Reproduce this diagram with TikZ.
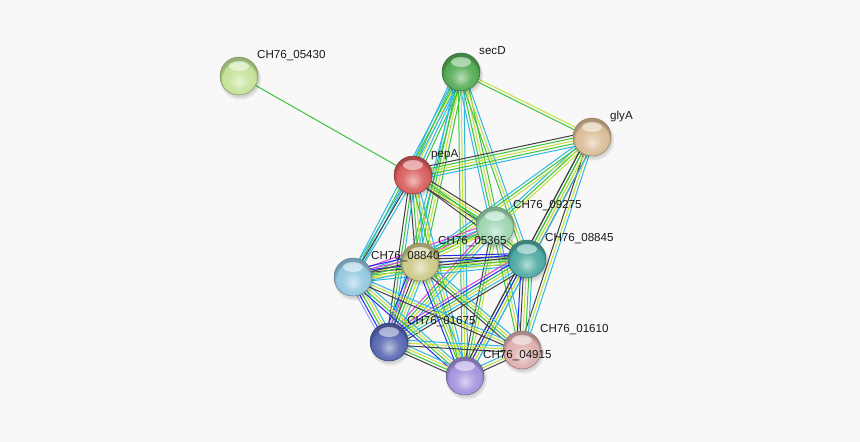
\documentclass[tikz,border=0pt]{standalone}
\usepackage{fontspec}
\setmainfont{Liberation Sans}
\usetikzlibrary{calc}
\pgfdeclarelayer{bg}\pgfdeclarelayer{edges}\pgfdeclarelayer{shadows}
\pgfsetlayers{bg,edges,shadows,main}
\definecolor{bgc}{RGB}{248,248,248}
\definecolor{tm}{RGB}{199,223,60}
\definecolor{db}{RGB}{48,184,224}
\definecolor{nb}{RGB}{60,196,60}
\definecolor{co}{RGB}{64,64,64}
\definecolor{ex}{RGB}{224,64,224}
\definecolor{oc}{RGB}{40,40,240}
\definecolor{hm}{RGB}{160,160,255}
\definecolor{c05430}{RGB}{196,226,150}
\definecolor{csecD}{RGB}{84,170,84}
\definecolor{cglyA}{RGB}{218,188,150}
\definecolor{cpepA}{RGB}{216,92,92}
\definecolor{c09275}{RGB}{156,214,176}
\definecolor{c08845}{RGB}{76,170,160}
\definecolor{c05365}{RGB}{204,200,136}
\definecolor{c08840}{RGB}{146,200,224}
\definecolor{c01675}{RGB}{86,102,176}
\definecolor{c04915}{RGB}{164,146,222}
\definecolor{c01610}{RGB}{222,174,174}
\makeatletter
\pgfdeclareradialshading[tikz@ball]{stringball}{\pgfqpoint{0bp}{-8bp}}{%
 color(0bp)=(tikz@ball!40!white); color(13bp)=(tikz@ball!88!white);
 color(22bp)=(tikz@ball); color(25bp)=(tikz@ball!78!black); color(50bp)=(tikz@ball!78!black)}
\makeatother
\tikzset{
 prot/.style={circle, minimum size=38pt, inner sep=0pt, ball color=#1, shading=stringball, draw=#1!65!black, line width=0.5pt},
 lbl/.style={anchor=base west, inner sep=0pt, text=black!90, font=\fontsize{11.6}{13}\selectfont},
 ln/.style={line width=1pt}
}
\newcommand{\stredge}[3]{%
  \gdef\strn{0}\foreach \c in {#3}{\xdef\strn{\the\numexpr\strn+1\relax}}%
  \foreach \c [count=\i] in {#3}{%
    \pgfmathsetmacro\off{(\i-(\strn+1)/2)*2.8}%
    \draw[ln,\c] ($(#1)!\off pt!90:(#2)$) -- ($(#2)!\off pt!-90:(#1)$);}}
\newcommand{\hilite}[1]{\fill[white,opacity=0.5] ($(#1)+(0,-10)$) ellipse (10pt and 5pt);}
\newcommand{\nshadow}[1]{\fill[black,opacity=0.08] ($(#1)+(1.5,3)$) circle (20.5pt);
  \fill[black,opacity=0.08] ($(#1)+(1,2)$) circle (19.5pt);}
\begin{document}
\begin{tikzpicture}[x=1pt,y=-1pt]
\begin{pgfonlayer}{bg}
\fill[bgc] (0,0) rectangle (860,442);
\end{pgfonlayer}
\useasboundingbox (0,0) rectangle (860,442);
% nodes
\node[prot=c05430] (n05430) at (239,76) {};
\node[prot=csecD]  (secD)   at (461,72) {};
\node[prot=cglyA]  (glyA)   at (592,137) {};
\node[prot=cpepA]  (pepA)   at (413,175) {};
\node[prot=c09275] (n09275) at (495,226) {};
\node[prot=c08845] (n08845) at (527,259) {};
\node[prot=c05365] (n05365) at (420,262) {};
\node[prot=c08840] (n08840) at (353,277) {};
\node[prot=c01675] (n01675) at (389,342) {};
\node[prot=c04915] (n04915) at (465,376) {};
\node[prot=c01610] (n01610) at (522,350) {};
\foreach \n in {n05430,secD,glyA,pepA,n09275,n08845,n05365,n08840,n01675,n04915,n01610}{\hilite{\n}}
\begin{pgfonlayer}{shadows}
\foreach \n in {n05430,secD,glyA,pepA,n09275,n08845,n05365,n08840,n01675,n04915,n01610}{\nshadow{\n}}
\end{pgfonlayer}
% labels
\node[lbl] (l05430) at ($(n05430)+(18,-17.5)$) {CH76\_05430};
\node[lbl] (lsecD)  at ($(secD)+(18,-17.5)$) {secD};
\node[lbl] (lglyA)  at ($(glyA)+(18,-17.5)$) {glyA};
\node[lbl] (lpepA)  at ($(pepA)+(18,-17.5)$) {pepA};
\node[lbl] (l09275) at ($(n09275)+(18,-17.5)$) {CH76\_09275};
\node[lbl] (l08845) at ($(n08845)+(18,-17.5)$) {CH76\_08845};
\node[lbl] (l05365) at ($(n05365)+(18,-17.5)$) {CH76\_05365};
\node[lbl] (l08840) at ($(n08840)+(18,-17.5)$) {CH76\_08840};
\node[lbl] (l01675) at ($(n01675)+(18,-17.5)$) {CH76\_01675};
\node[lbl] (l04915) at ($(n04915)+(18,-17.5)$) {CH76\_04915};
\node[lbl] (l01610) at ($(n01610)+(18,-17.5)$) {CH76\_01610};
% edges
\begin{pgfonlayer}{edges}
\stredge{n05430}{pepA}{nb}
\stredge{secD}{glyA}{nb,tm}
\stredge{secD}{pepA}{db,nb,tm,db,nb}
\stredge{secD}{n08840}{db,nb,db}
\stredge{secD}{n05365}{db,nb,tm,nb}
\stredge{secD}{n09275}{db,nb,tm,nb}
\stredge{secD}{n08845}{nb,tm,db}
\stredge{secD}{n01675}{db,nb}
\stredge{secD}{n04915}{nb,tm,db}
\stredge{glyA}{pepA}{co,nb,tm,nb,db}
\stredge{glyA}{n09275}{db,nb,tm}
\stredge{glyA}{n08845}{co,nb,tm,co}
\stredge{glyA}{n01610}{co,tm,db}
\stredge{glyA}{n05365}{db,nb,tm}
\stredge{glyA}{n04915}{co,nb,tm,db}
\stredge{pepA}{n09275}{co,nb,tm,co}
\stredge{pepA}{n08845}{co,tm,nb}
\stredge{pepA}{n05365}{co,nb,tm,db}
\stredge{pepA}{n08840}{db,co,db}
\stredge{pepA}{n01675}{co,nb,db}
\stredge{pepA}{n04915}{nb,tm,db}
\stredge{n09275}{n05365}{ex,nb,tm}
\stredge{n09275}{n08840}{ex,db,nb,tm}
\stredge{n09275}{n08845}{nb,tm}
\stredge{n09275}{n01675}{ex,nb,tm,db}
\stredge{n09275}{n04915}{co,nb,tm}
\stredge{n09275}{n01610}{nb,tm,db}
\stredge{n08845}{n05365}{oc,co,nb,tm,db}
\stredge{n08845}{n08840}{oc,co,nb,tm,db}
\stredge{n08845}{n01675}{ex,oc,nb,tm,db,co}
\stredge{n08845}{n04915}{co,oc,tm,db}
\stredge{n08845}{n01610}{oc,co,tm,nb,db}
\stredge{n05365}{n08840}{oc,ex,co,nb,tm,db}
\stredge{n05365}{n01675}{oc,ex,co,nb,tm,db}
\stredge{n05365}{n04915}{oc,nb,tm,db}
\stredge{n05365}{n01610}{co,nb,tm,db}
\stredge{n08840}{n01675}{hm,oc,nb,tm,db}
\stredge{n08840}{n04915}{oc,nb,tm,db}
\stredge{n08840}{n01610}{co,tm,db}
\stredge{n01675}{n04915}{co,nb,tm,db}
\stredge{n01675}{n01610}{co,tm,db}
\stredge{n04915}{n01610}{co,tm,db}
\end{pgfonlayer}
\end{tikzpicture}
\end{document}
